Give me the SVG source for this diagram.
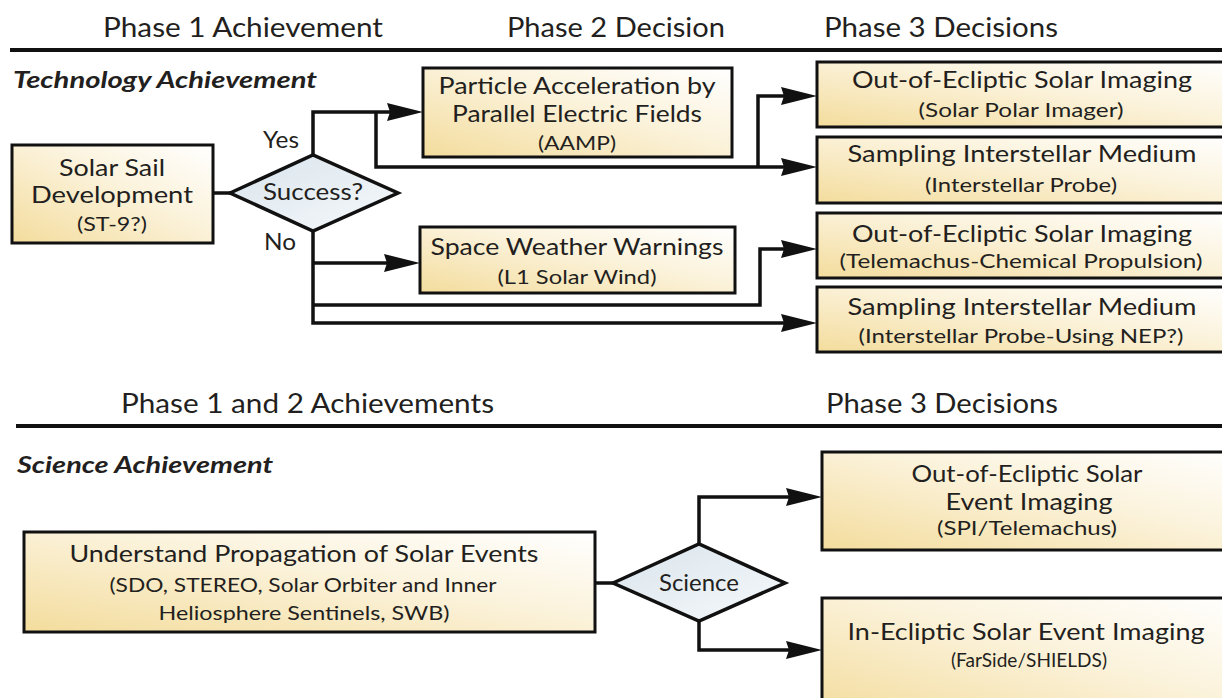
<svg xmlns="http://www.w3.org/2000/svg" width="1222" height="698" viewBox="0 0 1222 698">
<defs>
<linearGradient id="tan" x1="0" y1="1" x2="1" y2="0">
<stop offset="0" stop-color="#f3dc9c"/>
<stop offset="0.55" stop-color="#fbf2da"/>
<stop offset="1" stop-color="#ffffff"/>
</linearGradient>
<linearGradient id="blue" x1="0" y1="0" x2="1" y2="1">
<stop offset="0" stop-color="#d9e4ec"/>
<stop offset="1" stop-color="#f6f9fb"/>
</linearGradient>
<marker id="ah" viewBox="0 0 36 20" refX="16" refY="10" markerWidth="36" markerHeight="20" markerUnits="userSpaceOnUse" orient="auto">
<path d="M0,1 L36,10 L0,19 L3,10 Z" fill="#111"/>
</marker>
<style>
text{font-family:Lato,"Open Sans","Liberation Sans",sans-serif;fill:#231f20}
.hdr{font-size:27px}
.sec{font-size:22px;font-weight:bold;font-style:italic}
.t{font-size:23px;text-anchor:middle}
.s{font-size:19px;text-anchor:middle}
.box{fill:url(#tan);stroke:#111;stroke-width:3}
.dia{fill:url(#blue);stroke:#111;stroke-width:3.5;stroke-linejoin:miter}
.rule{stroke:#111;stroke-width:4}
.c{fill:none;stroke:#111;stroke-width:3.5}
.a{marker-end:url(#ah)}
</style>
</defs>
<rect width="1222" height="698" fill="#fff"/>

<g id="headers">
<text class="hdr" x="103" y="37" textLength="280" lengthAdjust="spacingAndGlyphs">Phase 1 Achievement</text>
<text class="hdr" x="507" y="37" textLength="218" lengthAdjust="spacingAndGlyphs">Phase 2 Decision</text>
<text class="hdr" x="824" y="37" textLength="234" lengthAdjust="spacingAndGlyphs">Phase 3 Decisions</text>
<line class="rule" x1="10" y1="50" x2="1222" y2="50"/>
<text class="sec" x="13" y="88" textLength="304" lengthAdjust="spacingAndGlyphs">Technology Achievement</text>
<text class="hdr" x="121" y="413" textLength="373" lengthAdjust="spacingAndGlyphs">Phase 1 and 2 Achievements</text>
<text class="hdr" x="826" y="413" textLength="232" lengthAdjust="spacingAndGlyphs">Phase 3 Decisions</text>
<line class="rule" x1="16" y1="426" x2="1222" y2="426"/>
<text class="sec" x="17" y="473" textLength="256" lengthAdjust="spacingAndGlyphs">Science Achievement</text>
</g>

<g id="connectors">
<path class="c" d="M213,193 H230"/>
<path class="c a" d="M313,155 V112 H403"/>
<path class="c a" d="M376,112 V167 H797"/>
<path class="c a" d="M758,167 V96 H797"/>
<path class="c a" d="M313,231 V323 H797"/>
<path class="c a" d="M313,263 H400"/>
<path class="c a" d="M313,305 H760 V249 H797"/>
<path class="c" d="M595,583 H613"/>
<path class="c a" d="M699,544 V497 H802"/>
<path class="c a" d="M699,621 V650 H802"/>
<text class="t" x="281" y="148" textLength="36" lengthAdjust="spacingAndGlyphs">Yes</text>
<text class="t" x="280" y="250" textLength="32" lengthAdjust="spacingAndGlyphs">No</text>
</g>

<g id="solar-sail">
<rect class="box" x="12" y="145" width="201" height="98"/>
<text class="t" x="112" y="176" textLength="106" lengthAdjust="spacingAndGlyphs">Solar Sail</text>
<text class="t" x="112" y="203" textLength="162" lengthAdjust="spacingAndGlyphs">Development</text>
<text class="s" x="112" y="231" textLength="70" lengthAdjust="spacingAndGlyphs">(ST-9?)</text>
</g>

<g id="success">
<polygon class="dia" points="230,193 313,155 398,193 313,231"/>
<text class="t" x="313" y="200" textLength="100" lengthAdjust="spacingAndGlyphs">Success?</text>
</g>

<g id="particle">
<rect class="box" x="423" y="68" width="309" height="89"/>
<text class="t" x="577" y="94" textLength="277" lengthAdjust="spacingAndGlyphs">Particle Acceleration by</text>
<text class="t" x="577" y="122" textLength="250" lengthAdjust="spacingAndGlyphs">Parallel Electric Fields</text>
<text class="s" x="577" y="150" textLength="78" lengthAdjust="spacingAndGlyphs">(AAMP)</text>
</g>

<g id="space-weather">
<rect class="box" x="420" y="227" width="315" height="66"/>
<text class="t" x="577" y="255" textLength="293" lengthAdjust="spacingAndGlyphs">Space Weather Warnings</text>
<text class="s" x="577" y="284" textLength="159" lengthAdjust="spacingAndGlyphs">(L1 Solar Wind)</text>
</g>

<g id="ooe-spi">
<rect class="box" x="817" y="62" width="420" height="65"/>
<text class="t" x="1022" y="88" textLength="340" lengthAdjust="spacingAndGlyphs">Out-of-Ecliptic Solar Imaging</text>
<text class="s" x="1021" y="117" textLength="205" lengthAdjust="spacingAndGlyphs">(Solar Polar Imager)</text>
</g>

<g id="sim-ip">
<rect class="box" x="817" y="137" width="420" height="66"/>
<text class="t" x="1022" y="162" textLength="349" lengthAdjust="spacingAndGlyphs">Sampling Interstellar Medium</text>
<text class="s" x="1021" y="192" textLength="192" lengthAdjust="spacingAndGlyphs">(Interstellar Probe)</text>
</g>

<g id="ooe-tel">
<rect class="box" x="817" y="213" width="420" height="65"/>
<text class="t" x="1022" y="242" textLength="340" lengthAdjust="spacingAndGlyphs">Out-of-Ecliptic Solar Imaging</text>
<text class="s" x="1021" y="268" textLength="363" lengthAdjust="spacingAndGlyphs">(Telemachus-Chemical Propulsion)</text>
</g>

<g id="sim-nep">
<rect class="box" x="817" y="287" width="420" height="65"/>
<text class="t" x="1022" y="315" textLength="349" lengthAdjust="spacingAndGlyphs">Sampling Interstellar Medium</text>
<text class="s" x="1021" y="343" textLength="325" lengthAdjust="spacingAndGlyphs">(Interstellar Probe-Using NEP?)</text>
</g>

<g id="understand">
<rect class="box" x="24" y="532" width="571" height="100"/>
<text class="t" x="304" y="562" textLength="469" lengthAdjust="spacingAndGlyphs">Understand Propagation of Solar Events</text>
<text class="s" x="303" y="592" textLength="387" lengthAdjust="spacingAndGlyphs">(SDO, STEREO, Solar Orbiter and Inner</text>
<text class="s" x="304" y="620" textLength="291" lengthAdjust="spacingAndGlyphs">Heliosphere Sentinels, SWB)</text>
</g>

<g id="science">
<polygon class="dia" points="613,583 699,544 785,583 699,621"/>
<text class="t" x="699" y="591" textLength="80" lengthAdjust="spacingAndGlyphs">Science</text>
</g>

<g id="ooe-event">
<rect class="box" x="822" y="452" width="420" height="98"/>
<text class="t" x="1027" y="482" textLength="231" lengthAdjust="spacingAndGlyphs">Out-of-Ecliptic Solar</text>
<text class="t" x="1029" y="510" textLength="167" lengthAdjust="spacingAndGlyphs">Event Imaging</text>
<text class="s" x="1027" y="535" textLength="180" lengthAdjust="spacingAndGlyphs">(SPI/Telemachus)</text>
</g>

<g id="in-ecliptic">
<rect class="box" x="822" y="598" width="420" height="120"/>
<text class="t" x="1026" y="640" textLength="357" lengthAdjust="spacingAndGlyphs">In-Ecliptic Solar Event Imaging</text>
<text class="s" x="1029" y="667" textLength="156" lengthAdjust="spacingAndGlyphs">(FarSide/SHIELDS)</text>
</g>
</svg>
